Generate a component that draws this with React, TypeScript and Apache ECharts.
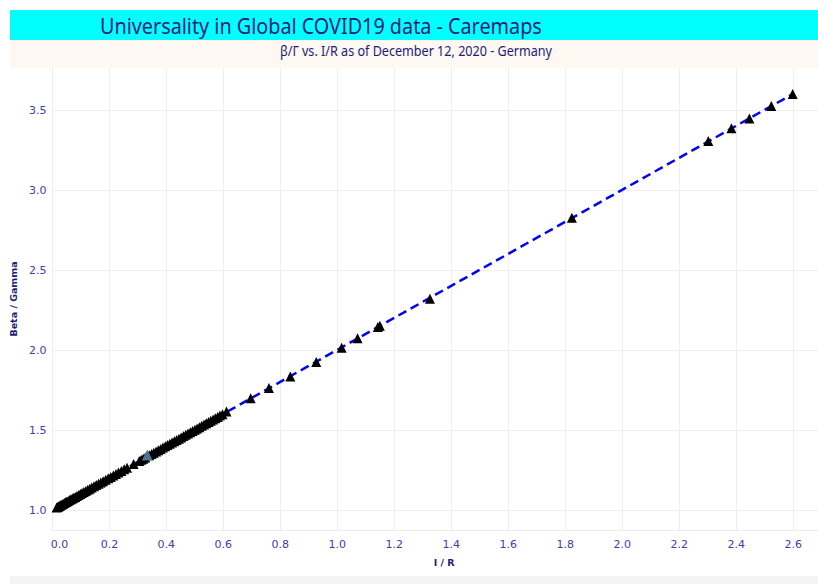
import React, { useEffect, useRef } from "react";
import * as echarts from "echarts";

const titleText = "Universality in Global COVID19 data - Caremaps";
const subtitleText = "β/Γ vs. I/R as of December 12, 2020 - Germany";
const xAxisName = "I / R";
const yAxisName = "Beta / Gamma";

const yTicks = [1.0, 1.5, 2.0, 2.5, 3.0, 3.5];

// I/R values (x)
const irValues = [
  0.015, 0.018, 0.021, 0.024, 0.027, 0.03, 0.034, 0.038, 0.042, 0.046, 0.05, 0.055,
  0.06, 0.065, 0.07, 0.075, 0.08, 0.086, 0.092, 0.098, 0.104, 0.11, 0.117, 0.124,
  0.131, 0.138, 0.146, 0.154, 0.162, 0.17, 0.178, 0.187, 0.196, 0.205, 0.214, 0.223,
  0.232, 0.242, 0.252, 0.262, 0.285, 0.305, 0.312, 0.319, 0.326, 0.34, 0.348, 0.356,
  0.364, 0.372, 0.38, 0.388, 0.396, 0.404, 0.412, 0.42, 0.428, 0.436, 0.444, 0.452,
  0.46, 0.468, 0.476, 0.484, 0.492, 0.5, 0.508, 0.516, 0.524, 0.532, 0.54, 0.548,
  0.556, 0.564, 0.572, 0.58, 0.588, 0.597, 0.611, 0.696, 0.76, 0.835, 0.926, 1.015,
  1.071, 1.142, 1.149, 1.325, 1.823, 2.302, 2.383, 2.446, 2.523, 2.598,
];

// Beta/Gamma values (y)
const betaGammaValues = [
  1.02, 1.023, 1.026, 1.029, 1.032, 1.035, 1.04, 1.043, 1.048, 1.052, 1.056, 1.061,
  1.066, 1.071, 1.076, 1.081, 1.086, 1.092, 1.098, 1.104, 1.11, 1.116, 1.123, 1.13,
  1.137, 1.144, 1.152, 1.16, 1.168, 1.176, 1.184, 1.193, 1.202, 1.211, 1.22, 1.229,
  1.238, 1.248, 1.258, 1.268, 1.291, 1.311, 1.318, 1.325, 1.332, 1.346, 1.354, 1.362,
  1.37, 1.378, 1.386, 1.394, 1.402, 1.41, 1.418, 1.426, 1.434, 1.442, 1.45, 1.458,
  1.466, 1.474, 1.482, 1.49, 1.498, 1.506, 1.514, 1.522, 1.53, 1.538, 1.546, 1.554,
  1.562, 1.57, 1.578, 1.586, 1.594, 1.603, 1.619, 1.702, 1.767, 1.838, 1.929, 2.019,
  2.077, 2.148, 2.156, 2.325, 2.831, 3.31, 3.39, 3.452, 3.529, 3.604,
];

// highlighted (latest) point
const highlightIr = [0.333];
const highlightBetaGamma = [1.348];

// dashed fit line endpoints
const fitIr = [0.015, 2.598];
const fitBetaGamma = [1.02, 3.604];

const navy = "#1c1c78";
const tickColor = "#3d3dab";

export default function App() {
  const ref = useRef<HTMLDivElement>(null);

  useEffect(() => {
    if (!ref.current) return;
    const chart = echarts.init(ref.current, undefined, { renderer: "svg" });
    const points = irValues.map((x, i) => [x, betaGammaValues[i]]);
    const hl = highlightIr.map((x, i) => [x, highlightBetaGamma[i]]);
    const fit = fitIr.map((x, i) => [x, fitBetaGamma[i]]);

    chart.setOption({
      animation: false,
      backgroundColor: "#ffffff",
      grid: { left: 48.75, right: 14, top: 68, bottom: 54, containLabel: false },
      graphic: [
        { type: "rect", z: -10, shape: { x: 10, y: 10, width: 840, height: 30 }, style: { fill: "#00ffff" } },
        { type: "rect", z: -10, shape: { x: 10, y: 40, width: 840, height: 28 }, style: { fill: "#fdf8f1" } },
        { type: "rect", z: -10, shape: { x: 10, y: 576, width: 840, height: 8 }, style: { fill: "#f3f3f3" } },
        {
          type: "text",
          x: 100,
          y: 26,
          scaleX: 0.9,
          style: {
            text: titleText,
            fill: navy,
            font: '22px "Noto Sans"',
            textAlign: "left",
            textVerticalAlign: "middle",
          },
        },
        {
          type: "text",
          x: 416,
          y: 51,
          scaleX: 0.9,
          style: {
            text: subtitleText,
            fill: navy,
            font: '14px "Noto Sans"',
            textAlign: "center",
            textVerticalAlign: "middle",
          },
        },
      ],
      xAxis: {
        type: "value",
        min: 0,
        max: 2.75,
        interval: 0.2,
        name: xAxisName,
        nameLocation: "middle",
        nameGap: 27,
        nameTextStyle: { color: navy, fontFamily: "DejaVu Sans", fontSize: 9.5, fontWeight: "bold" },
        axisLine: { show: true, onZero: false, lineStyle: { color: "#ebebeb", width: 1 } },
        axisTick: { show: false },
        axisLabel: {
          showMaxLabel: false,
          margin: 9,
          color: tickColor,
          fontFamily: "DejaVu Sans",
          fontSize: 11,
          formatter: (v: number) => (v === 0 ? "{p|0.0}" : v.toFixed(1)),
          rich: {
            p: { padding: [0, 0, 0, 14], color: tickColor, fontFamily: "DejaVu Sans", fontSize: 11 },
          },
        },
        splitLine: { show: true, lineStyle: { color: "#efefef", width: 1 } },
      },
      yAxis: {
        type: "value",
        min: 0.879,
        max: 3.767,
        name: yAxisName,
        nameLocation: "middle",
        nameGap: 26,
        nameTextStyle: { color: navy, fontFamily: "DejaVu Sans", fontSize: 9.5, fontWeight: "bold" },
        axisLine: { show: false },
        axisTick: { show: false, customValues: yTicks },
        axisLabel: {
          customValues: yTicks,
          margin: 6,
          color: tickColor,
          fontFamily: "DejaVu Sans",
          fontSize: 11,
          formatter: (v: number) => v.toFixed(1),
        },
        splitLine: { show: true, lineStyle: { color: "#efefef", width: 1 } },
      },
      series: [
        {
          type: "line",
          data: fit,
          symbol: "none",
          silent: true,
          lineStyle: { color: "#0000ff", width: 2.5, type: [9, 5] },
          z: 2,
        },
        {
          type: "scatter",
          data: points,
          symbol: "triangle",
          symbolSize: 10,
          itemStyle: { color: "#000000", opacity: 1 },
          z: 3,
        },
        {
          type: "scatter",
          data: hl,
          symbol: "triangle",
          symbolSize: 11,
          itemStyle: { color: "#4b7394", opacity: 1 },
          z: 4,
        },
      ],
    });
    return () => chart.dispose();
  }, []);

  return (
    <div style={{ position: "fixed", left: 0, top: 0, width: 818, height: 584, overflow: "hidden" }}>
      <div ref={ref} style={{ width: 850, height: 584 }} />
    </div>
  );
}
